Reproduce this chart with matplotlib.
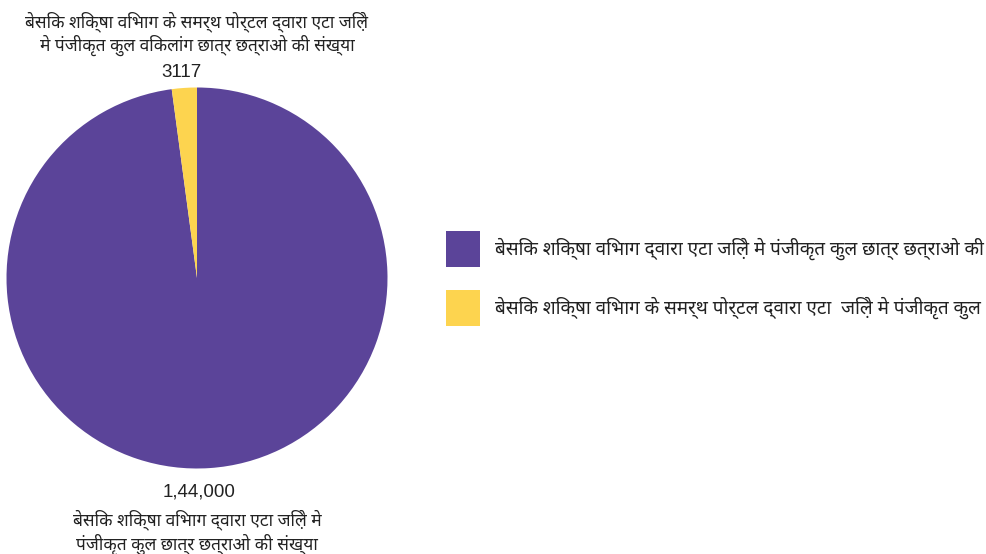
import numpy as np
import matplotlib
matplotlib.use("Agg")
import matplotlib.pyplot as plt
from matplotlib.patches import Patch

# Registered students in Etah district: all students vs. students with disabilities
categories = [
    "बेसिक शिक्षा विभाग द्वारा एटा जिले़ मे\nपंजीकृत कुल छात्र छत्राओ की संख्या",
    "बेसिक शिक्षा विभाग के समर्थ पोर्टल द्वारा एटा जिले़\nमे पंजीकृत कुल विकलांग छात्र छत्राओ की संख्या",
]
values = [144000, 3117]
value_labels = ["1,44,000", "3117"]
legend_labels = [
    "बेसिक शिक्षा विभाग द्वारा एटा जिले़ मे पंजीकृत कुल छात्र छत्राओ की",
    "बेसिक शिक्षा विभाग के समर्थ पोर्टल द्वारा एटा  जिले़ मे पंजीकृत कुल",
]
colors = ["#5b4499", "#fdd44f"]

DEVA = ["Noto Sans Devanagari", "Liberation Sans", "DejaVu Sans"]
NUM = ["Liberation Sans", "DejaVu Sans"]
TEXT_COLOR = "#222222"

W, H = 987, 554
fig = plt.figure(figsize=(W / 100, H / 100), dpi=100)

# pie placed by pixel geometry: centre (197, 278), radius 190.5
cx, cy, r = 197.0, 278.0, 190.5
ax = fig.add_axes([(cx - r) / W, (H - cy - r) / H, 2 * r / W, 2 * r / H])
wedges, _ = ax.pie(values, colors=colors, startangle=90, counterclock=False,
                   wedgeprops=dict(linewidth=0))
ax.set_xlim(-1, 1)
ax.set_ylim(-1, 1)
ax.set_aspect("equal")
ax.axis("off")

# outside labels: value next to the slice, category name beyond it
for w, val, name in zip(wedges, value_labels, categories):
    mid = np.deg2rad((w.theta1 + w.theta2) / 2)
    upper = np.sin(mid) > 0
    vx = 1.25 * np.cos(mid) if upper else 0.01
    vy = 1.078 if upper else -1.125
    ny = 1.282 if upper else -1.335
    ax.text(vx, vy, val, ha="center", va="center", fontsize=13.5,
            family=NUM, color=TEXT_COLOR)
    ax.text(0.0, ny, name, ha="center", va="center", fontsize=12.5,
            family=DEVA, color=TEXT_COLOR, linespacing=1.2)

handles = [Patch(facecolor=c, edgecolor="none") for c in colors]
leg = fig.legend(handles, legend_labels, loc="center left",
                 bbox_to_anchor=(438 / W, 1 - 278.5 / H), frameon=False,
                 prop={"family": DEVA, "size": 13.6},
                 handlelength=1.8, handleheight=2.56, handletextpad=0.8,
                 labelspacing=1.17, borderaxespad=0)
for t in leg.get_texts():
    t.set_color(TEXT_COLOR)

fig.savefig("out.png", dpi=100, facecolor="white")
